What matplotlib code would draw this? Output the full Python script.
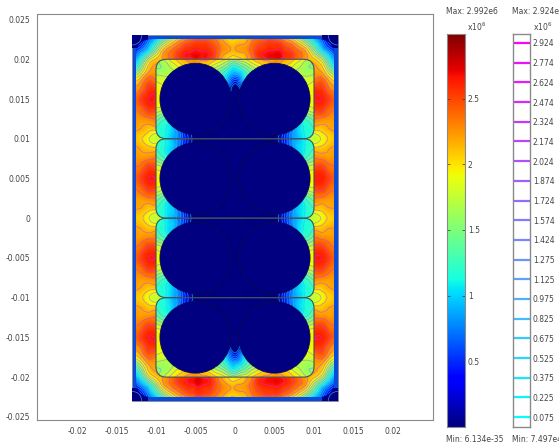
import numpy as np
import matplotlib
matplotlib.use('Agg')
import matplotlib.pyplot as plt
from matplotlib.patches import Circle, FancyBboxPatch, PathPatch, Rectangle
from matplotlib.path import Path
from matplotlib.tri import Triangulation, UniformTriRefiner

plt.rcParams['font.family'] = 'DejaVu Sans'
plt.rcParams['font.size'] = 5.5
TEXT = '#444444'
EDGE = '#8a8a8a'
NAVY = '#000080'

# field, x1e6, upper right quarter, first row is y = 0 mm
# outer gap, x = 0..13 mm, y = 0..23 mm (under the cells only x >= 10 shows)
outer_x = np.arange(0, 14)
outer_y = np.arange(0, 24)
outer = np.array([
    [1.75] * 11 + [1.90, 2.05, 2.15],
    [2.00] * 11 + [2.05, 2.15, 2.20],
    [2.25] * 11 + [2.20, 2.20, 2.25],
    [2.40] * 11 + [2.40, 2.30, 2.30],
    [2.55] * 11 + [2.55, 2.40, 2.35],
    [2.62] * 11 + [2.62, 2.48, 2.40],
    [2.55] * 11 + [2.55, 2.40, 2.35],
    [2.40] * 11 + [2.40, 2.30, 2.30],
    [2.25] * 11 + [2.20, 2.20, 2.25],
    [2.00] * 11 + [2.05, 2.15, 2.20],
    [1.75] * 11 + [1.90, 2.05, 2.15],
    [2.00] * 11 + [2.05, 2.15, 2.20],
    [2.25] * 11 + [2.20, 2.20, 2.25],
    [2.40] * 11 + [2.40, 2.30, 2.30],
    [2.55] * 11 + [2.55, 2.40, 2.35],
    [2.62] * 11 + [2.62, 2.48, 2.40],
    [2.58] * 11 + [2.55, 2.35, 2.25],
    [2.40] * 11 + [2.45, 2.20, 2.05],
    [2.25] * 11 + [2.25, 1.90, 1.65],
    [2.20] * 11 + [2.05, 1.50, 1.10],
    [1.95, 2.05, 2.25, 2.50, 2.60, 2.65, 2.58, 2.50, 2.35, 2.20, 2.05, 1.75, 1.15, .70],
    [2.15, 2.20, 2.35, 2.55, 2.62, 2.65, 2.60, 2.50, 2.35, 2.15, 1.65, 1.15, .70, .30],
    [2.10, 2.15, 2.30, 2.45, 2.52, 2.52, 2.45, 2.30, 2.05, 1.70, 1.25, .75, .20, .05],
    [2.00, 2.05, 2.20, 2.30, 2.30, 2.30, 2.10, 1.85, 1.55, 1.15, .75, .40, .05, 0],
])

# inside the cells, x = 0..10 mm, y = 0..20 mm
inner_x = np.arange(0, 11)
inner_y = np.arange(0, 21)
inner = np.array([
    [0, 0, 0, 0, 0, 0, .25, .70, .95, 1.15, 1.20],
    [0, 0, 0, 0, 0, 0, .20, .65, 1.0, 1.15, 1.25],
    [0, 0, 0, 0, .10, .20, .40, .60, 1.0, 1.20, 1.40],
    [0, 0, .10, .20, .40, .60, .90, 1.2, 1.4, 1.50, 1.65],
    [0, 0, .20, .50, .80, 1.0, 1.3, 1.6, 1.75, 1.85, 1.90],
    [0, 0, .30, .80, 1.2, 1.4, 1.6, 1.7, 1.8, 1.90, 1.95],
    [0, 0, .20, .50, .80, 1.0, 1.3, 1.6, 1.75, 1.85, 1.90],
    [0, 0, .10, .20, .40, .60, .90, 1.2, 1.4, 1.50, 1.65],
    [0, 0, 0, 0, .10, .20, .40, .60, 1.0, 1.20, 1.40],
    [0, 0, 0, 0, 0, 0, .20, .65, 1.0, 1.15, 1.25],
    [0, 0, 0, 0, 0, 0, .25, .70, .95, 1.15, 1.20],
    [0, 0, 0, 0, 0, 0, .20, .65, 1.0, 1.15, 1.25],
    [0, 0, 0, 0, .10, .20, .40, .60, 1.0, 1.20, 1.40],
    [0, 0, .10, .20, .40, .60, .90, 1.2, 1.4, 1.50, 1.65],
    [0, 0, .20, .50, .80, 1.0, 1.3, 1.6, 1.75, 1.85, 1.90],
    [0, 0, .30, .80, 1.2, 1.4, 1.6, 1.7, 1.8, 1.90, 1.95],
    [0, .10, .50, 1.0, 1.3, 1.5, 1.6, 1.7, 1.8, 1.90, 1.95],
    [.10, .75, 1.2, 1.4, 1.5, 1.5, 1.6, 1.7, 1.8, 1.85, 1.90],
    [.75, 1.05, 1.4, 1.6, 1.7, 1.7, 1.7, 1.7, 1.7, 1.70, 1.75],
    [1.15, 1.40, 1.65, 1.85, 2.0, 2.1, 2.0, 1.9, 1.75, 1.60, 1.55],
    [1.75, 1.85, 2.0, 2.15, 2.2, 2.25, 2.2, 2.1, 1.95, 1.75, 1.55],
])

contour_labels = ['2.924', '2.774', '2.624', '2.474', '2.324', '2.174', '2.024', '1.874', '1.724', '1.574',
                  '1.424', '1.275', '1.125', '0.975', '0.825', '0.675', '0.525', '0.375', '0.225', '0.075']
contour_levels = np.array([float(v) for v in contour_labels])[::-1]
surface_ticks = [0.5, 1, 1.5, 2, 2.5]
surface_max = 2.992
xticks = [-0.02, -0.015, -0.01, -0.005, 0, 0.005, 0.01, 0.015, 0.02]
yticks = [-0.025, -0.02, -0.015, -0.01, -0.005, 0, 0.005, 0.01, 0.015, 0.02, 0.025]
circle_x = [-0.005, 0.005]
circle_y = [-0.015, -0.005, 0.005, 0.015]
cell_y = [-0.02, -0.01, 0, 0.01]
radius = 0.0045


def px_axes(left, top, right, bottom):
    return fig.add_axes([left / 559, (445 - bottom) / 445, (right - left) / 559, (bottom - top) / 445])


def refine(values, x_mm, y_mm):
    # mirror the quarter to the whole section, let matplotlib smooth it
    full = np.hstack([values[:, :0:-1], values])
    full = np.vstack([full[:0:-1], full])
    xs = np.r_[-x_mm[:0:-1], x_mm] / 1000
    ys = np.r_[-y_mm[:0:-1], y_mm] / 1000
    X, Y = np.meshgrid(xs, ys)
    tri = Triangulation(X.ravel(), Y.ravel())
    tri_fine, z_fine = UniformTriRefiner(tri).refine_field(full.ravel(), subdiv=3)
    return tri_fine, np.clip(z_fine, 0, surface_max)


def draw_field(tri_fine, z_fine, clip, z):
    surf = ax.tripcolor(tri_fine, z_fine, shading='gouraud', cmap='jet', vmin=0, vmax=surface_max, zorder=z)
    surf.set_clip_path(clip)
    lines = ax.tricontour(tri_fine, z_fine, levels=contour_levels, cmap='cool', linewidths=0.6, alpha=0.55,
                          zorder=z + 0.1)
    lines.set_clip_path(clip)


fig = plt.figure(figsize=(5.59, 4.45), dpi=100)
ax = px_axes(37, 14, 433, 420)
ax.set_xlim(-0.02506, 0.02506)
ax.set_ylim(-0.0254, 0.0257)
for s in ax.spines.values():
    s.set_color(EDGE)
ax.set_xticks(xticks)
ax.set_xticklabels(['-0.02', '-0.015', '-0.01', '-0.005', '0', '0.005', '0.01', '0.015', '0.02'], color=TEXT)
ax.set_yticks(yticks)
ax.set_yticklabels(['-0.025', '-0.02', '-0.015', '-0.01', '-0.005', '0', '0.005', '0.01', '0.015', '0.02', '0.025'],
                   color=TEXT)
ax.tick_params(length=0, pad=5)

# casing strip, dark corners
casing = Rectangle((-0.013, -0.023), 0.026, 0.046, fc='#0a4ada', ec=EDGE, lw=0.6, zorder=1)
ax.add_patch(casing)
for sx in [-1, 1]:
    for sy in [-1, 1]:
        ax.add_patch(Rectangle((sx * 0.012 - 0.001, sy * 0.0222 - 0.0008), 0.002, 0.0016, fc=NAVY, ec='none', zorder=1.1))
        arc = Circle((sx * 0.013, sy * 0.023), 0.0012, fc='none', ec='#3c90e8', lw=0.5, zorder=1.2)
        ax.add_patch(arc)
        arc.set_clip_path(casing)

outer_clip = FancyBboxPatch((-0.0105, -0.0205), 0.0210, 0.0410, boxstyle='round,pad=0.002,rounding_size=0.002',
                            fc=NAVY, ec='none', zorder=1.5)
ax.add_patch(outer_clip)
draw_field(*refine(outer, outer_x, outer_y), outer_clip, 2)

# cells: rounded boxes, the field jumps across them
cells = []
for cy in cell_y:
    cell = FancyBboxPatch((-0.0085, cy + 0.0015), 0.017, 0.007, boxstyle='round,pad=0.0015,rounding_size=0.0013',
                          fc='none', ec='#46505a', lw=0.8, zorder=4)
    ax.add_patch(cell)
    cells.append(cell)
inner_clip = PathPatch(Path.make_compound_path(*[c.get_path() for c in cells]), fc='none', ec='none',
                       transform=ax.transData)
ax.add_patch(inner_clip)
draw_field(*refine(inner, inner_x, inner_y), inner_clip, 3)

for cy in circle_y:
    for cx in circle_x:
        ax.add_patch(Circle((cx, cy), radius, fc=NAVY, ec='#0a0a50', lw=0.6, zorder=5))

# surface legend
cax = px_axes(447, 34, 465, 427)
cax.imshow(np.linspace(surface_max, 0, 256)[:, None], aspect='auto', cmap='jet', vmin=0, vmax=surface_max,
           extent=[0, 1, 0, surface_max])
cax.set_xticks([])
cax.yaxis.tick_right()
cax.set_yticks(surface_ticks)
cax.set_yticklabels(['0.5', '1', '1.5', '2', '2.5'], color=TEXT)
cax.tick_params(axis='y', length=2, width=0.5, direction='in', left=True, pad=2, color='#333333')
for s in cax.spines.values():
    s.set_color(EDGE)

# contour legend
lax = px_axes(513, 34, 530, 427)
lax.set_xlim(0, 1)
lax.set_ylim(0, 2.992)
lax.hlines(contour_levels, 0, 1, colors=plt.get_cmap('cool')(np.linspace(0, 1, len(contour_levels))), lw=1.6)
lax.set_xticks([])
lax.yaxis.tick_right()
lax.set_yticks(contour_levels)
lax.set_yticklabels(contour_labels[::-1], color=TEXT)
lax.tick_params(axis='y', length=0, pad=2)
for s in lax.spines.values():
    s.set_color(EDGE)
    s.set_linewidth(1.0)

for x, y, t in [(446, 14, 'Max: 2.992e6'), (512, 14, 'Max: 2.924e6'), (446, 442, 'Min: 6.134e-35'), (512, 442, 'Min: 7.497e4')]:
    fig.text(x / 559, (445 - y) / 445, t, color=TEXT)
for x in [467, 533]:
    fig.text(x / 559, (445 - 31) / 445, r'x10$^{6}$', color=TEXT, math_fontfamily='dejavusans')

fig.savefig('out.png', dpi=100)
